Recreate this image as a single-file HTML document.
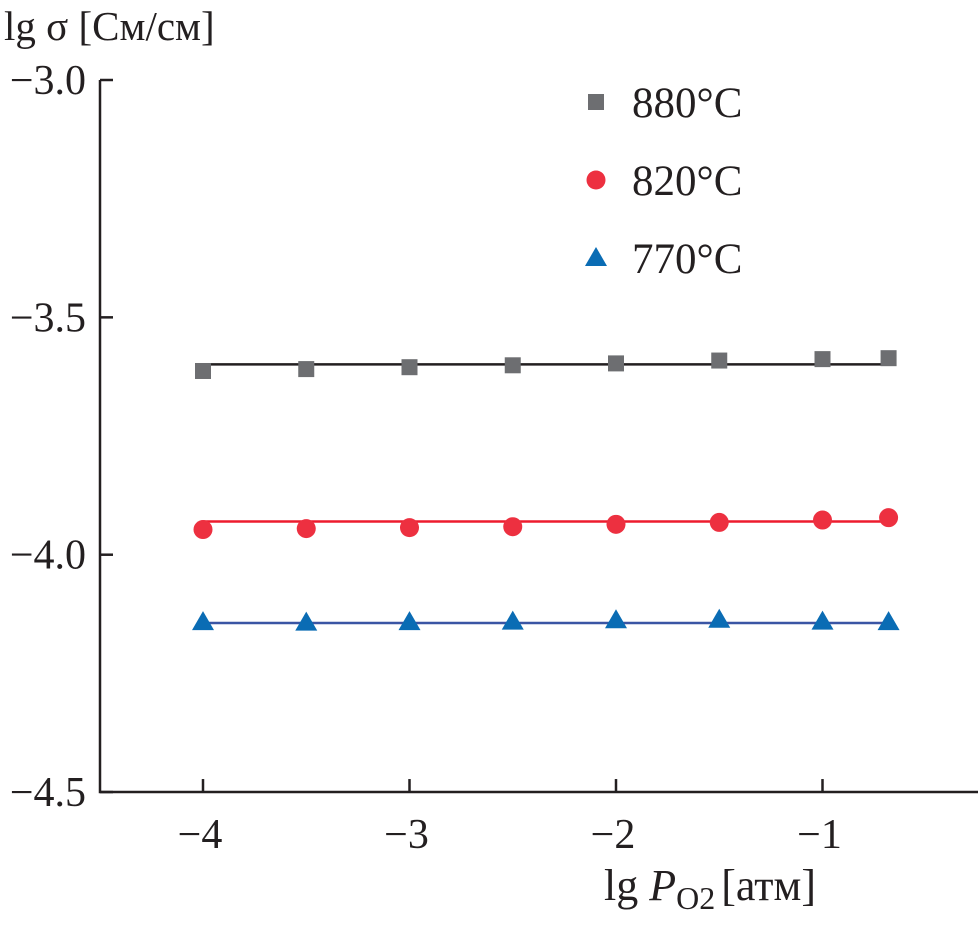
<!DOCTYPE html>
<html><head><meta charset="utf-8"><style>
body{margin:0;background:#fff}
svg text{font-family:"Liberation Serif",serif;fill:#231f20}
</style></head><body>
<svg id="chart" width="980" height="924" viewBox="0 0 980 924" xmlns="http://www.w3.org/2000/svg">
<g id="axes"></g>
<g id="marks"></g>
<g id="legend"></g>
<text x="4" y="40" font-size="41">lg σ [См/см]</text>
<text x="604" y="900" font-size="44">lg <tspan font-style="italic">P</tspan><tspan font-size="32" dy="9">O2</tspan><tspan dy="-9" dx="6">[атм]</tspan></text>
</svg>
<script>
const xTicks=[-4,-3,-2,-1];
const xTickLabels=["−4","−3","−2","−1"];
const yTicks=[-3.0,-3.5,-4.0,-4.5];
const yTickLabels=["−3.0","−3.5","−4.0","−4.5"];
const xValues=[-4,-3.5,-3,-2.5,-2,-1.5,-1,-0.68];
const s880=[-3.613,-3.609,-3.605,-3.601,-3.597,-3.591,-3.588,-3.586];
const s820=[-3.947,-3.945,-3.943,-3.941,-3.936,-3.932,-3.927,-3.922];
const s770=[-4.142,-4.143,-4.142,-4.141,-4.138,-4.137,-4.141,-4.142];
const fit880=-3.599, fit820=-3.93, fit770=-4.144;
const NS="http://www.w3.org/2000/svg";
const X=v=>203+(v+4)*206.5;
const Y=v=>80+(-3-v)*474.7;
function mk(tag,attrs,parent){const e=document.createElementNS(NS,tag);for(const k in attrs)e.setAttribute(k,attrs[k]);parent.appendChild(e);return e;}
const axes=document.getElementById('axes'),marks=document.getElementById('marks'),legend=document.getElementById('legend');
let a=mk('path',{d:`M100,${Y(-3)}V${Y(-4.5)}H978`,stroke:'#231f20','stroke-width':2.5,fill:'none'},axes);


yTicks.forEach((t,i)=>{
 const l=mk('line',{x1:100,x2:113,y1:Y(t),y2:Y(t),stroke:'#231f20','stroke-width':2.5},axes);
 
 
 const tx=mk('text',{x:86,y:Y(t)+14,'font-size':42,'text-anchor':'end'},axes);tx.textContent=yTickLabels[i];
 
 
});
xTicks.forEach((t,i)=>{
 const l=mk('line',{x1:X(t),x2:X(t),y1:Y(-4.5),y2:Y(-4.5)-13,stroke:'#231f20','stroke-width':2.5},axes);
 
 
 const tx=mk('text',{x:X(t)-3,y:848,'font-size':42,'text-anchor':'middle'},axes);tx.textContent=xTickLabels[i];
 
 
});
function marker(shape,cx,cy,color,g){
 let e;
 if(shape==='sq')e=mk('rect',{x:cx-8,y:cy-8,width:16,height:16,fill:color},g);
 else if(shape==='ci')e=mk('circle',{cx,cy,r:9.5,fill:color},g);
 else e=mk('polygon',{points:`${cx},${cy-11} ${cx+11},${cy+8} ${cx-11},${cy+8}`,fill:color},g);
 return e;
}
const series=[[s880,fit880,'#6d6e71','#231f20','sq','880°C',102],[s820,fit820,'#ed3040','#ed1c2e','ci','820°C',180],[s770,fit770,'#0a6cb4','#3a55a4','tr','770°C',258]];
series.forEach(([vals,fit,col,lcol,shape,lab,ly])=>{
 const ln=mk('line',{x1:X(-4),x2:X(-0.68),y1:Y(fit),y2:Y(fit),stroke:lcol,'stroke-width':2.5},marks);
 
 
 vals.forEach((v,i)=>{
  const m=marker(shape,X(xValues[i]),Y(v),col,marks);
  
  
 });
 const lm=marker(shape,596,ly,col,legend);
 
 
 const lt=mk('text',{x:632,y:ly+15,'font-size':43},legend);lt.textContent=lab;
 
 
});
</script>
</body></html>
